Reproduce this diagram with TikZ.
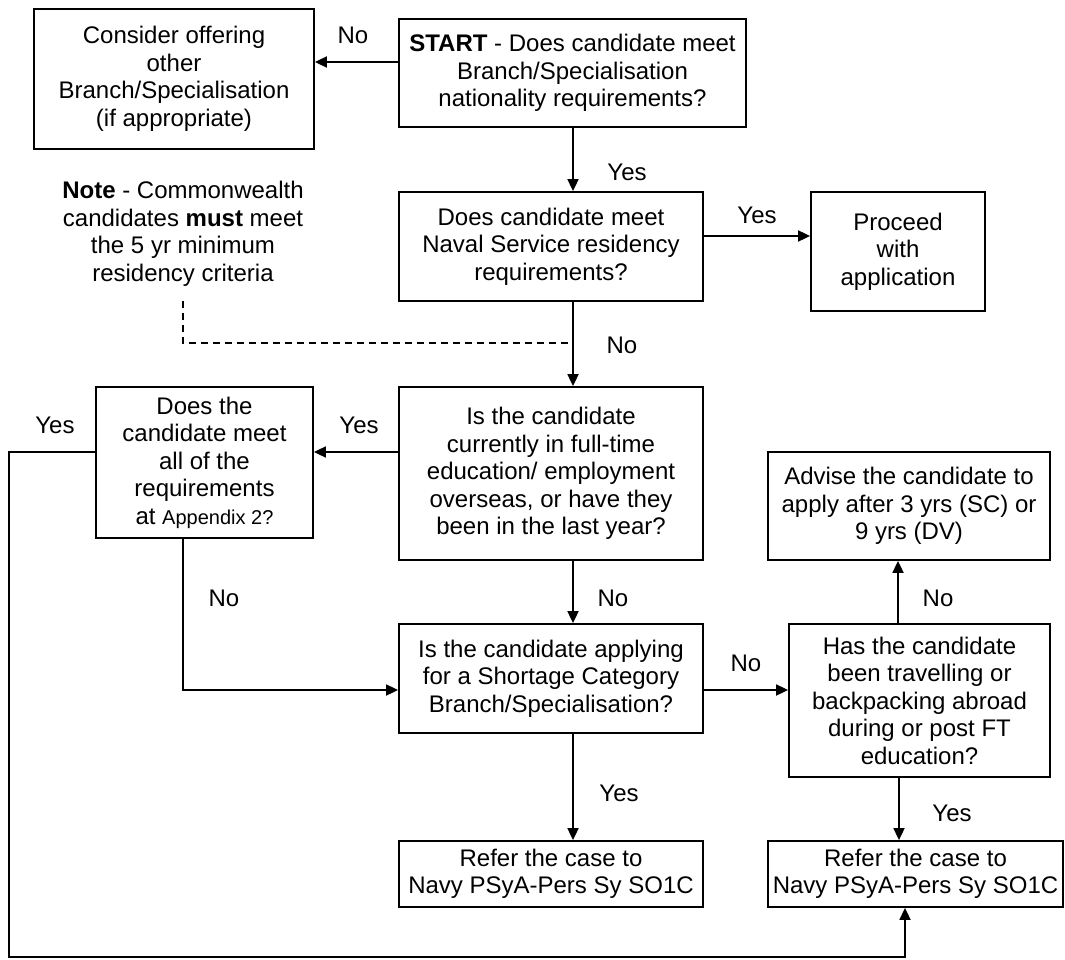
\documentclass[tikz,border=0pt]{standalone}
\usepackage{fontspec}
\setmainfont{Liberation Sans}
\usepackage{tikz}
\usetikzlibrary{arrows.meta,calc,positioning}

\begin{document}
\begin{tikzpicture}[x=1pt,y=-1pt,>={Triangle[length=12pt,width=11pt]},
  every node/.style={font=\fontsize{24}{27.5}\selectfont},
  box/.style={draw,line width=1.8pt,align=center,inner sep=0pt},
  lbl/.style={inner sep=0pt},
  line/.style={line width=1.8pt},
  arr/.style={line width=1.8pt,->}]
  \useasboundingbox (0,0) rectangle (1065,960);
  \coordinate (spine) at (573,0);
  % boxes
  \node[box,minimum width=280,minimum height=140] (consider) at (174,79) {Consider offering\\other\\Branch/Specialisation\\(if appropriate)};
  \node[box,minimum width=347,minimum height=108] (start) at (572.5,73) {\textbf{START} - Does candidate meet\\Branch/Specialisation\\nationality requirements?};
  \node[box,minimum width=304,minimum height=109] (res) at (551,246.5) {Does candidate meet\\Naval Service residency\\requirements?};
  \node[box,minimum width=174,minimum height=119] (proceed) at (898,251.5) {Proceed\\with\\application};
  \node[align=center,inner sep=0pt] (note) at (183,234) {\textbf{Note} - Commonwealth\\candidates \textbf{must} meet\\the 5 yr minimum\\residency criteria};
  \node[box,minimum width=304,minimum height=173] (edu) at (551,473.5) {Is the candidate\\currently in full-time\\education/ employment\\overseas, or have they\\been in the last year?};
  \node[box,minimum width=217,minimum height=151] (app) at (204.5,462.5) {Does the\\candidate meet\\all of the\\requirements\\at {\fontsize{20}{24}\selectfont Appendix 2?}};
  \node[box,minimum width=304,minimum height=109] (short) at (551,678.5) {Is the candidate applying\\for a Shortage Category\\Branch/Specialisation?};
  \node[box,minimum width=282,minimum height=108] (advise) at (909,506) {Advise the candidate to\\apply after 3 yrs (SC) or\\9 yrs (DV)};
  \node[box,minimum width=261,minimum height=153] (travel) at (919.5,700.5) {Has the candidate\\been travelling or\\backpacking abroad\\during or post FT\\education?};
  \node[box,minimum width=304,minimum height=66] (refer1) at (551,874) {Refer the case to\\Navy PSyA-Pers Sy SO1C};
  \node[box,minimum width=295,minimum height=66] (refer2) at (915.5,874) {Refer the case to\\Navy PSyA-Pers Sy SO1C};
  % labels
  \node[lbl] (lno1) at (353,35) {No};
  \node[lbl] (lyes1) at (627,172) {Yes};
  \node[lbl] (lyes2) at (757,215) {Yes};
  \node[lbl] (lno2) at (622,345) {No};
  \node[lbl] (lyes3) at (55,425) {Yes};
  \node[lbl] (lyes4) at (359,425) {Yes};
  \node[lbl] (lno3) at (224,598) {No};
  \node[lbl] (lno4) at (613,598) {No};
  \node[lbl] (lno5) at (938,598) {No};
  \node[lbl] (lno6) at (746,663) {No};
  \node[lbl] (lyes5) at (619,793) {Yes};
  \node[lbl] (lyes6) at (952,813) {Yes};
  % connectors
  \coordinate (yesrow) at ([yshift=21.5pt]edu.west);
  \coordinate (lft) at (9,957);
  \draw[arr] ([yshift=11pt]start.west) -- ([yshift=11pt]start.west -| consider.east);
  \draw[arr] (spine |- start.south) -- (spine |- res.north);
  \draw[arr] ([yshift=10.5pt]res.east) -- ([yshift=10.5pt]res.east -| proceed.west);
  \draw[arr] (spine |- res.south) -- (spine |- edu.north);
  \draw[line,dash pattern=on 7pt off 5pt,line width=1.5pt] ([yshift=-14pt]note.south) |- (spine |- 0,343);
  \draw[arr] (yesrow) -- (yesrow -| app.east);
  \draw[arr] (yesrow -| app.west) -| (lft) -| ([xshift=-10.5pt]refer2.south);
  \draw[arr] ([xshift=-21.5pt]app.south) |- ([yshift=-11.5pt]short.west);
  \draw[arr] (spine |- edu.south) -- (spine |- short.north);
  \draw[arr] ([yshift=-11.5pt]short.east) -- ([yshift=-11.5pt]short.east -| travel.west);
  \draw[arr] (spine |- short.south) -- (spine |- refer1.north);
  \draw[arr] ([xshift=-21.5pt]travel.north) -- ([xshift=-21.5pt]travel.north |- advise.south);
  \draw[arr] ([xshift=-20.5pt]travel.south) -- ([xshift=-20.5pt]travel.south |- refer2.north);
\end{tikzpicture}
\end{document}
